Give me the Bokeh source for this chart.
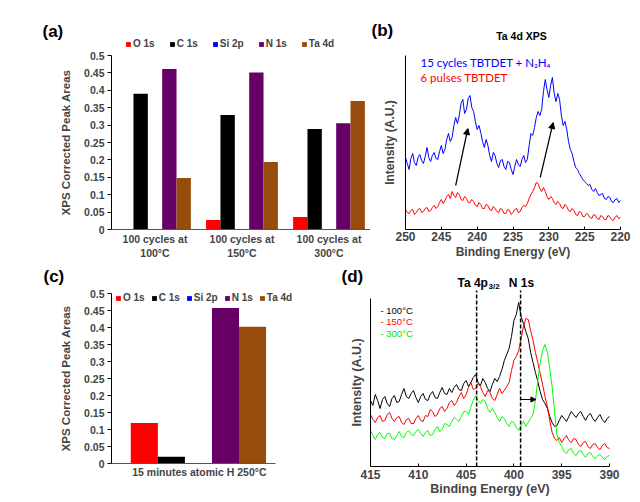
from bokeh.plotting import figure
from bokeh.models import (Range1d, Legend, LegendItem, Label, Arrow, NormalHead,
                          FixedTicker, NumeralTickFormatter, ColumnDataSource)
from bokeh.layouts import column, row
from bokeh.transform import dodge
from bokeh.embed import file_html
from bokeh.resources import INLINE

# ---------------- data ----------------
elements = ["O 1s", "C 1s", "Si 2p", "N 1s", "Ta 4d"]

a_categories = ["100 cycles at\n100\u00b0C", "100 cycles at\n150\u00b0C", "100 cycles at\n300\u00b0C"]
a_O = [0.0, 0.027, 0.036]
a_C = [0.390, 0.329, 0.289]
a_Si = [0.0, 0.0, 0.0]
a_N = [0.461, 0.451, 0.305]
a_Ta = [0.148, 0.194, 0.369]

c_categories = ["15 minutes atomic H  250\u00b0C"]
c_O = [0.119]
c_C = [0.020]
c_Si = [0.0]
c_N = [0.457]
c_Ta = [0.402]

bar_ticks = [0, 0.05, 0.1, 0.15, 0.2, 0.25, 0.3, 0.35, 0.4, 0.45, 0.5]

b_energy = [250.0, 249.75, 249.5, 249.25, 249.0, 248.75, 248.5, 248.25, 248.0, 247.75,
            247.5, 247.25, 247.0, 246.75, 246.5, 246.25, 246.0, 245.75, 245.5, 245.25,
            245.0, 244.75, 244.5, 244.25, 244.0, 243.75, 243.5, 243.25, 243.0, 242.75,
            242.5, 242.25, 242.0, 241.75, 241.5, 241.25, 241.0, 240.75, 240.5, 240.25,
            240.0, 239.75, 239.5, 239.25, 239.0, 238.75, 238.5, 238.25, 238.0, 237.75,
            237.5, 237.25, 237.0, 236.75, 236.5, 236.25, 236.0, 235.75, 235.5, 235.25,
            235.0, 234.75, 234.5, 234.25, 234.0, 233.75, 233.5, 233.25, 233.0, 232.75,
            232.5, 232.25, 232.0, 231.75, 231.5, 231.25, 231.0, 230.75, 230.5, 230.25,
            230.0, 229.75, 229.5, 229.25, 229.0, 228.75, 228.5, 228.25, 228.0, 227.75,
            227.5, 227.25, 227.0, 226.75, 226.5, 226.25, 226.0, 225.75, 225.5, 225.25,
            225.0, 224.75, 224.5, 224.25, 224.0, 223.75, 223.5, 223.25, 223.0, 222.75,
            222.5, 222.25, 222.0, 221.75, 221.5, 221.25, 221.0, 220.75, 220.5, 220.25, 220.0]
b_cycles = [72, 66, 60, 71, 76, 67, 64, 72, 75, 69,
            66, 73, 82, 72, 68, 74, 77, 71, 70, 78,
            84, 76, 80, 90, 96, 88, 92, 104, 112, 106,
            114, 126, 130, 116, 120, 131, 134, 122, 118, 108,
            100, 104, 97, 88, 82, 90, 84, 74, 68, 77,
            74, 66, 62, 69, 70, 63, 60, 68, 67, 60,
            55, 63, 70, 65, 63, 70, 74, 67, 70, 84,
            96, 94, 102, 112, 118, 114, 120, 138, 150, 140,
            132, 144, 152, 136, 128, 136, 130, 114, 104, 108,
            100, 88, 80, 76, 68, 62, 60, 56, 53, 50,
            48, 46, 44, 45, 40, 38, 41, 37, 34, 35,
            36, 31, 30, 33, 32, 28, 27, 30, 31, 27, 29]
b_pulses = [20, 17, 16, 19, 20, 15, 17, 20, 21, 17,
            18, 21, 22, 18, 19, 22, 24, 21, 23, 27,
            30, 26, 29, 33, 35, 31, 38, 34, 32, 37,
            35, 30, 29, 33, 31, 27, 27, 30, 28, 24,
            23, 27, 25, 21, 21, 25, 24, 20, 19, 23,
            21, 18, 17, 21, 20, 16, 16, 20, 19, 15,
            17, 20, 21, 17, 18, 22, 24, 23, 26, 31,
            35, 38, 42, 47, 46, 41, 38, 42, 38, 33,
            30, 33, 31, 27, 25, 28, 26, 22, 21, 25,
            23, 19, 18, 21, 19, 15, 14, 18, 17, 13,
            13, 16, 15, 12, 11, 15, 14, 11, 10, 14,
            13, 10, 10, 14, 13, 10, 9, 12, 14, 11, 12]
b_ticks = [250, 245, 240, 235, 230, 225, 220]

d_energy = [415.0, 414.75, 414.5, 414.25, 414.0, 413.75, 413.5, 413.25, 413.0, 412.75,
            412.5, 412.25, 412.0, 411.75, 411.5, 411.25, 411.0, 410.75, 410.5, 410.25,
            410.0, 409.75, 409.5, 409.25, 409.0, 408.75, 408.5, 408.25, 408.0, 407.75,
            407.5, 407.25, 407.0, 406.75, 406.5, 406.25, 406.0, 405.75, 405.5, 405.25,
            405.0, 404.75, 404.5, 404.25, 404.0, 403.75, 403.5, 403.25, 403.0, 402.75,
            402.5, 402.25, 402.0, 401.75, 401.5, 401.25, 401.0, 400.75, 400.5, 400.25,
            400.0, 399.75, 399.5, 399.25, 399.0, 398.75, 398.5, 398.25, 398.0, 397.75,
            397.5, 397.25, 397.0, 396.75, 396.5, 396.25, 396.0, 395.75, 395.5, 395.25,
            395.0, 394.75, 394.5, 394.25, 394.0, 393.75, 393.5, 393.25, 393.0, 392.75,
            392.5, 392.25, 392.0, 391.75, 391.5, 391.25, 391.0, 390.75, 390.5, 390.25, 390.0]
d_100C = [66, 61, 72, 66, 58, 67, 70, 63, 60, 68,
          71, 64, 65, 72, 78, 70, 68, 73, 76, 69,
          64, 70, 73, 67, 66, 72, 75, 69, 68, 74,
          79, 73, 72, 78, 74, 79, 82, 77, 76, 83,
          86, 80, 84, 89, 92, 84, 81, 88, 84, 78,
          75, 82, 88, 85, 90, 97, 106, 112, 118, 130,
          146, 152, 164, 150, 143, 135, 128, 114, 104, 94,
          85, 75, 67, 63, 58, 50, 44, 40, 41, 46,
          51, 48, 45, 50, 55, 52, 49, 53, 55, 50,
          46, 51, 53, 48, 45, 49, 52, 47, 44, 48, 50]
d_150C = [52, 47, 44, 49, 51, 45, 46, 52, 54, 48,
          45, 49, 50, 44, 42, 47, 48, 43, 43, 48,
          51, 46, 45, 51, 50, 57, 55, 50, 52, 58,
          60, 55, 58, 64, 66, 61, 64, 70, 74, 68,
          72, 79, 84, 77, 78, 83, 80, 74, 70, 76,
          74, 68, 66, 72, 78, 73, 76, 80, 84, 96,
          106, 110, 116, 128, 140, 148, 147, 136, 126, 114,
          104, 93, 82, 70, 60, 46, 34, 28, 26, 29,
          24, 28, 31, 26, 24, 28, 27, 22, 20, 24,
          25, 20, 18, 22, 23, 19, 17, 21, 23, 19, 18]
d_300C = [36, 31, 27, 32, 34, 29, 28, 33, 33, 28,
          27, 31, 35, 30, 29, 34, 36, 32, 31, 35,
          37, 33, 30, 34, 36, 31, 32, 37, 40, 35,
          37, 43, 42, 40, 45, 49, 47, 45, 50, 55,
          55, 52, 60, 66, 71, 66, 63, 67, 65, 58,
          54, 58, 54, 49, 45, 50, 48, 43, 40, 45,
          44, 39, 36, 41, 45, 40, 44, 48, 52, 66,
          86, 104, 116, 122, 114, 98, 80, 55, 32, 24,
          20, 15, 13, 17, 18, 13, 11, 15, 16, 12,
          9, 13, 14, 10, 8, 11, 12, 9, 7, 10, 11]
d_ticks = [415, 410, 405, 400, 395, 390]
d_peaks = [403.9, 399.3]

# ---------------- styles / layout ----------------
colors = ["#FF0000", "#000000", "#0000FF", "#660066", "#984C0C"]
FONT = "Liberation Sans"


def rng(v0, p0, v1, p1, lo, hi):
    """Range whose value v0 sits at pixel p0 and v1 at pixel p1, spanning pixels lo..hi."""
    k = (v1 - v0) / (p1 - p0)
    return Range1d(v0 + (lo - p0) * k, v0 + (hi - p0) * k)


def make_fig(w, h, xr, yr):
    p = figure(width=w, height=h, x_range=xr, y_range=yr, min_border=0,
               output_backend="svg", toolbar_location=None)
    p.title.visible = False
    p.grid.visible = False
    p.outline_line_color = None
    p.background_fill_color = "white"
    p.border_fill_color = "white"
    for ax in p.axis:
        ax.axis_label_text_font = FONT
        ax.axis_label_text_font_style = "bold"
        ax.major_label_text_font = FONT
        ax.major_label_text_font_style = "bold"
        ax.minor_tick_line_color = None
        ax.axis_line_color = "black"
        ax.major_tick_line_color = "black"
    return p


def lab(p, x, y, text, size, color="black", style="bold", font=FONT, align="left"):
    p.add_layout(Label(x=x, y=y, x_units="screen", y_units="screen", text=text,
                       text_font=font, text_font_size=size, text_font_style=style,
                       text_color=color, text_align=align, text_baseline="middle"))


def bar_panel(p, categories, vals, offsets, bw, legend_loc, spacing, label_shift, standoff):
    pos = [i + 0.5 for i in range(len(categories))]
    src = ColumnDataSource(dict(pos=pos, O=vals[0], C=vals[1], Si=vals[2], N=vals[3], Ta=vals[4]))
    items = []
    for key, off, col, name in zip(["O", "C", "Si", "N", "Ta"], offsets, colors, elements):
        r = p.vbar(x=dodge("pos", off), top=key, width=bw, source=src,
                   fill_color=col, line_color=None)
        items.append(LegendItem(label=name, renderers=[r]))
    p.yaxis.fixed_location = 0
    p.yaxis.bounds = (0, 0.5)
    p.yaxis.ticker = FixedTicker(ticks=bar_ticks)
    p.yaxis.formatter = NumeralTickFormatter(format="0.[00]")
    p.yaxis.major_label_text_font_size = "10.5px"
    p.yaxis.major_tick_in = 0
    p.yaxis.major_tick_out = 4
    p.yaxis.major_label_standoff = 3
    p.yaxis.axis_label = "XPS Corrected Peak Areas"
    p.yaxis.axis_label_text_font_size = "11.5px"
    p.yaxis.axis_label_standoff = 9
    label_pos = [x + label_shift for x in pos]
    p.xaxis.fixed_location = 0
    p.xaxis.bounds = (0, len(categories))
    p.xaxis.ticker = FixedTicker(ticks=label_pos)
    p.xaxis.major_label_overrides = dict(zip(label_pos, categories))
    p.xaxis.major_tick_line_color = None
    p.xaxis.major_tick_in = 0
    p.xaxis.major_tick_out = 0
    p.xaxis.axis_line_color = "#555555"
    p.xaxis.major_label_text_font_size = "10.5px"
    p.xaxis.major_label_standoff = standoff
    p.add_layout(Legend(items=items, orientation="horizontal", location=legend_loc,
                        padding=0, margin=0, spacing=spacing, label_standoff=2,
                        glyph_width=6, glyph_height=6, label_height=10,
                        label_text_font=FONT, label_text_font_style="bold",
                        label_text_font_size="10px", border_line_color=None,
                        background_fill_alpha=0), "center")


# ---------------- (a) ----------------
pa = make_fig(370, 262, rng(0, 111, 3, 372, 0, 370), rng(0, 229, 0.5, 55, 262, 0))
bar_panel(pa, a_categories, [a_O, a_C, a_Si, a_N, a_Ta],
          [-0.33, -0.165, 0.0, 0.165, 0.33], 0.165, (125, 213), 14, 0.0, 3)
lab(pa, 42, 231, "(a)", "17px")

# ---------------- (b) ----------------
pb = make_fig(270, 262, rng(250, 405, 220, 620, 370, 640), rng(0, 229, 174, 55, 262, 0))
pb.line(b_energy, b_cycles, line_color="#0000FF", line_width=1)
pb.line(b_energy, b_pulses, line_color="#FF0000", line_width=1)
pb.xaxis.fixed_location = 0
pb.xaxis.bounds = (220, 250)
pb.xaxis.ticker = FixedTicker(ticks=b_ticks)
pb.xaxis.major_tick_in = 3
pb.xaxis.major_tick_out = 0
pb.xaxis.major_label_standoff = 2
pb.xaxis.major_label_text_font_size = "12px"
pb.xaxis.axis_label = "Binding Energy (eV)"
pb.xaxis.axis_label_text_font_size = "12px"
pb.xaxis.axis_label_standoff = 1
pb.yaxis.fixed_location = 250
pb.yaxis.bounds = (0, 174)
pb.yaxis.ticker = FixedTicker(ticks=[])
pb.yaxis.axis_label = "Intensity (A.U.)"
pb.yaxis.axis_label_text_font_size = "12px"
pb.yaxis.axis_label_standoff = 9
for xs, ys, xe, ye in [(243.0, 44, 241.3, 101), (231.2, 52, 229.4, 107)]:
    pb.add_layout(Arrow(end=NormalHead(size=6, fill_color="black", line_color="black"),
                        x_start=xs, y_start=ys, x_end=xe, y_end=ye, line_width=1.2))
lab(pb, 1, 232, "(b)", "17px")
lab(pb, 151, 227, "Ta 4d XPS", "10.5px", align="center")
lab(pb, 50, 200, "15 cycles TBTDET + N\u2082H\u2084", "11.5px", color="#0000FF", style="normal", font="Lato")
lab(pb, 50, 185, "6 pulses TBTDET", "11.5px", color="#FF0000", style="normal", font="Lato")

# ---------------- (c) ----------------
pc = make_fig(335, 240, rng(0, 111, 1, 275, 0, 335), rng(0, 463, 0.5, 293, 502, 262))
bar_panel(pc, c_categories, [c_O, c_C, c_Si, c_N, c_Ta],
          [-0.30, -0.135, 0.03, 0.195, 0.36], 0.165, (115, 199), 6, 0.045, 2)
lab(pc, 43, 226, "(c)", "17px")

# ---------------- (d) ----------------
pd = make_fig(305, 240, rng(415, 370, 390, 609, 335, 640), rng(0, 466, 168, 298, 502, 262))
pd.line(d_energy, d_100C, line_color="#000000", line_width=1)
pd.line(d_energy, d_150C, line_color="#FF0000", line_width=1)
pd.line(d_energy, d_300C, line_color="#00FF00", line_width=1)
pd.segment(x0=d_peaks, y0=[0, 0], x1=d_peaks, y1=[176, 176], line_color="black",
           line_width=1.5, line_dash="4 2")
pd.add_layout(Arrow(end=NormalHead(size=5, fill_color="black", line_color="black"),
                    x_start=399.3, y_start=67, x_end=397.7, y_end=67, line_width=1))
pd.xaxis.fixed_location = 0
pd.xaxis.bounds = (390, 415)
pd.xaxis.ticker = FixedTicker(ticks=d_ticks)
pd.xaxis.major_tick_in = 3
pd.xaxis.major_tick_out = 0
pd.xaxis.major_label_standoff = 3
pd.xaxis.major_label_text_font_size = "12px"
pd.xaxis.axis_label = "Binding Energy (eV)"
pd.xaxis.axis_label_text_font_size = "12.5px"
pd.xaxis.axis_label_standoff = 0
pd.yaxis.fixed_location = 415
pd.yaxis.bounds = (0, 168)
pd.yaxis.ticker = FixedTicker(ticks=[])
pd.yaxis.axis_label = "Intensity (A.U.)"
pd.yaxis.axis_label_text_font_size = "12.5px"
pd.yaxis.axis_label_standoff = 7
lab(pd, 6, 226, "(d)", "17px")
lab(pd, 122, 220, "Ta 4p", "12px")
lab(pd, 153, 216, "3/2", "8px")
lab(pd, 186, 220, "N 1s", "12px", align="center")
lab(pd, 45, 192, "- 100\u00b0C", "9.5px", color="#000000", style="normal")
lab(pd, 45, 181, "- 150\u00b0C", "9.5px", color="#FF0000", style="normal")
lab(pd, 45, 169, "- 300\u00b0C", "9.5px", color="#00DD00", style="normal")

layout = column(row(pa, pb), row(pc, pd))
open("out.html", "w").write(file_html(layout, INLINE))
